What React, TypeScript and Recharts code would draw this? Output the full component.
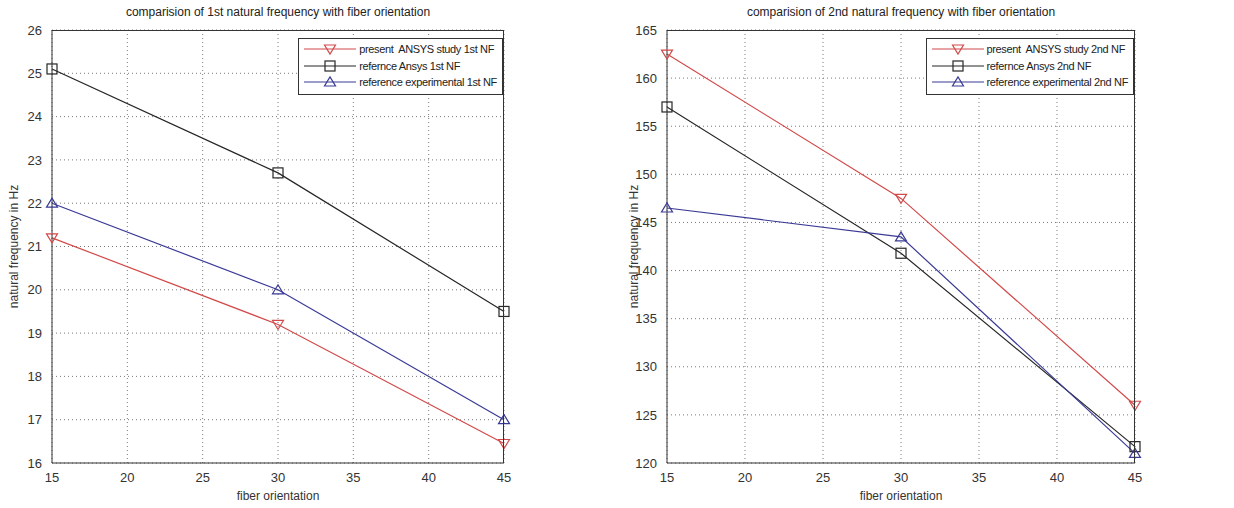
import {
  CartesianGrid,
  Line,
  LineChart,
  XAxis,
  YAxis,
} from "recharts";

const ORIENTATION = [15, 30, 45];
const X_TICKS = [15, 20, 25, 30, 35, 40, 45];

// 1st natural frequency (Hz)
const NF1_PRESENT = [21.2, 19.2, 16.45];
const NF1_REF_ANSYS = [25.1, 22.7, 19.5];
const NF1_REF_EXP = [22.0, 20.0, 17.0];
const NF1_TICKS = [16, 17, 18, 19, 20, 21, 22, 23, 24, 25, 26];

// 2nd natural frequency (Hz)
const NF2_PRESENT = [162.5, 147.5, 126.0];
const NF2_REF_ANSYS = [157.0, 141.8, 121.7];
const NF2_REF_EXP = [146.5, 143.5, 121.0];
const NF2_TICKS = [120, 125, 130, 135, 140, 145, 150, 155, 160, 165];

const FONT = "'Liberation Sans', Arial, sans-serif";
const RED = "#d24a4a";
const BLACK = "#262626";
const BLUE = "#3a3a96";
const TOP = 30;
const X_AXIS_H = 45;
const H = 508;

type Shape = "down" | "square" | "up";

function Marker({ cx, cy, shape, color }: { cx: number; cy: number; shape: Shape; color: string }) {
  if (shape === "square") {
    return <rect x={cx - 5} y={cy - 5} width={10} height={10} fill="none" stroke={color} strokeWidth={1.2} />;
  }
  const pts =
    shape === "down"
      ? `${cx - 5.5},${cy - 4} ${cx + 5.5},${cy - 4} ${cx},${cy + 5}`
      : `${cx - 5.5},${cy + 4} ${cx + 5.5},${cy + 4} ${cx},${cy - 5}`;
  return <polygon points={pts} fill="none" stroke={color} strokeWidth={1.2} />;
}

const dot = (shape: Shape, color: string) => (p: any) =>
  <Marker key={`${shape}-${p.index}`} cx={p.cx} cy={p.cy} shape={shape} color={color} />;

function LegendBox({ items }: { items: { label: string; shape: Shape; color: string }[] }) {
  return (
    <div
      style={{
        background: "#fff",
        border: "1px solid #333",
        padding: "2px 5px 3px 5px",
        fontFamily: FONT,
        fontSize: 11,
        letterSpacing: -0.35,
        color: "#222",
      }}
    >
      {items.map((it) => (
        <div key={it.label} style={{ display: "flex", alignItems: "center", height: 16.5 }}>
          <svg width={52} height={14} style={{ marginRight: 3 }}>
            <line x1={0} y1={7} x2={52} y2={7} stroke={it.color} strokeWidth={1.2} />
            <Marker cx={26} cy={7} shape={it.shape} color={it.color} />
          </svg>
          <span style={{ whiteSpace: "pre" }}>{it.label}</span>
        </div>
      ))}
    </div>
  );
}

function FreqChart({
  title,
  present,
  refAnsys,
  refExp,
  yTicks,
  names,
  width,
  yAxisWidth,
  marginRight,
}: {
  title: string;
  present: number[];
  refAnsys: number[];
  refExp: number[];
  yTicks: number[];
  names: string[];
  width: number;
  yAxisWidth: number;
  marginRight: number;
}) {
  const data = ORIENTATION.map((x, i) => ({
    x,
    present: present[i],
    refAnsys: refAnsys[i],
    refExp: refExp[i],
  }));
  const domain: [number, number] = [yTicks[0], yTicks[yTicks.length - 1]];
  const plotW = width - yAxisWidth - marginRight;
  const tick = { fontSize: 13, fill: "#333", fontFamily: FONT };
  const items = [
    { label: names[0], shape: "down" as Shape, color: RED },
    { label: names[1], shape: "square" as Shape, color: BLACK },
    { label: names[2], shape: "up" as Shape, color: BLUE },
  ];

  return (
    <div style={{ position: "relative", width, height: H }}>
      <div
        style={{
          position: "absolute",
          top: 5,
          left: yAxisWidth,
          width: plotW,
          textAlign: "center",
          fontFamily: FONT,
          fontSize: 12,
          color: "#222",
        }}
      >
        {title}
      </div>
      <LineChart width={width} height={H} data={data} margin={{ top: TOP, right: marginRight, left: 0, bottom: 0 }}>
        <CartesianGrid stroke="#7a7a7a" strokeDasharray="1 3" verticalValues={X_TICKS} horizontalValues={yTicks} />
        <XAxis
          dataKey="x"
          type="number"
          domain={[15, 45]}
          ticks={X_TICKS}
          tick={tick}
          tickLine={false}
          axisLine={{ stroke: "#333" }}
          height={X_AXIS_H}
          tickMargin={4}
          label={{ value: "fiber orientation", position: "insideBottom", offset: 8, style: { ...tick, fontSize: 12 } }}
        />
        <YAxis
          type="number"
          domain={domain}
          ticks={yTicks}
          tick={tick}
          tickLine={false}
          axisLine={{ stroke: "#333" }}
          width={yAxisWidth}
          tickMargin={4}
          label={{
            value: "natural frequency in Hz",
            angle: -90,
            position: "insideLeft",
            offset: 14,
            style: { ...tick, fontSize: 12, textAnchor: "middle" },
          }}
        />
        <Line dataKey="present" stroke={RED} strokeWidth={1.2} dot={dot("down", RED)} isAnimationActive={false} />
        <Line dataKey="refAnsys" stroke={BLACK} strokeWidth={1.2} dot={dot("square", BLACK)} isAnimationActive={false} />
        <Line dataKey="refExp" stroke={BLUE} strokeWidth={1.2} dot={dot("up", BLUE)} isAnimationActive={false} />
      </LineChart>
      {/* axes box (top and right edges) */}
      <div
        style={{
          position: "absolute",
          left: yAxisWidth,
          top: TOP,
          width: plotW,
          height: H - TOP - X_AXIS_H,
          boxSizing: "border-box",
          borderTop: "1px solid #333",
          borderRight: "1px solid #333",
          pointerEvents: "none",
        }}
      />
      <div style={{ position: "absolute", top: 38, right: marginRight + 1 }}>
        <LegendBox items={items} />
      </div>
    </div>
  );
}

export default function App() {
  return (
    <div style={{ position: "fixed", top: 0, left: 0, width: 1234, height: H, background: "#fff", display: "flex" }}>
      <FreqChart
        title="comparision of 1st natural frequency with fiber orientation"
        present={NF1_PRESENT}
        refAnsys={NF1_REF_ANSYS}
        refExp={NF1_REF_EXP}
        yTicks={NF1_TICKS}
        names={["present  ANSYS study 1st NF", "refernce Ansys 1st NF", "reference experimental 1st NF"]}
        width={620}
        yAxisWidth={52}
        marginRight={116}
      />
      <FreqChart
        title="comparision of 2nd natural frequency with fiber orientation"
        present={NF2_PRESENT}
        refAnsys={NF2_REF_ANSYS}
        refExp={NF2_REF_EXP}
        yTicks={NF2_TICKS}
        names={["present  ANSYS study 2nd NF", "refernce Ansys 2nd NF", "reference experimental 2nd NF"]}
        width={614}
        yAxisWidth={47}
        marginRight={99}
      />
    </div>
  );
}
